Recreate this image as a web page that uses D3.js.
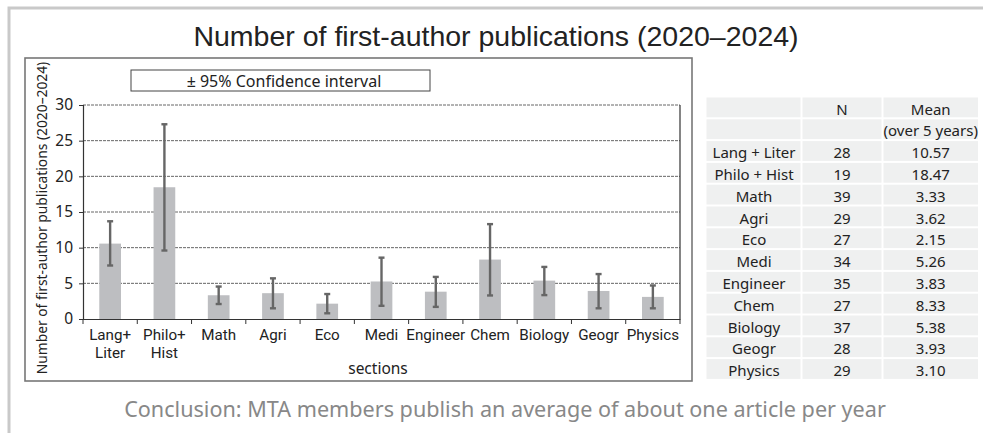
<!DOCTYPE html>
<html>
<head>
<meta charset="utf-8">
<script src="https://cdn.jsdelivr.net/npm/d3@7"></script>
<style>
  html, body { margin: 0; padding: 0; background: #fff; }
  svg { display: block; }
</style>
</head>
<body>
<svg id="chart" width="983" height="433"></svg>
<script>
// ---- data ----
const categories = ["Lang+ Liter", "Philo+ Hist", "Math", "Agri", "Eco", "Medi", "Engineer", "Chem", "Biology", "Geogr", "Physics"];
const tableNames = ["Lang + Liter", "Philo + Hist", "Math", "Agri", "Eco", "Medi", "Engineer", "Chem", "Biology", "Geogr", "Physics"];
const countN = [28, 19, 39, 29, 27, 34, 35, 27, 37, 28, 29];
const means = [10.57, 18.47, 3.33, 3.62, 2.15, 5.26, 3.83, 8.33, 5.38, 3.93, 3.10];
const ciLow = [7.5, 9.6, 2.1, 1.5, 0.8, 1.85, 1.7, 3.3, 3.35, 1.5, 1.5];
const ciHigh = [13.7, 27.3, 4.55, 5.7, 3.5, 8.6, 5.9, 13.3, 7.3, 6.3, 4.7];
const yTicks = [0, 5, 10, 15, 20, 25, 30];

const svg = d3.select("#chart");
const sans = "'Noto Sans', 'Open Sans', sans-serif";
const labelFont = "Roboto, 'Noto Sans', sans-serif";

// outer light frame
svg.append("rect").attr("x", 9).attr("y", 8).attr("width", 1000).attr("height", 450)
  .attr("fill", "none").attr("stroke", "#c9c9c9").attr("stroke-width", 3);

// title
svg.append("text").attr("x", 496).attr("y", 46).attr("text-anchor", "middle")
  .attr("font-family", "'Liberation Sans', Arial, sans-serif").attr("font-size", 28.5)
  .attr("fill", "#222").text("Number of first-author publications (2020–2024)");

// chart frame
svg.append("rect").attr("x", 25).attr("y", 58).attr("width", 667).attr("height", 323)
  .attr("fill", "#fff").attr("stroke", "#777").attr("stroke-width", 1.6);

// legend box
svg.append("rect").attr("x", 131).attr("y", 70).attr("width", 299).attr("height", 21)
  .attr("fill", "#fff").attr("stroke", "#444").attr("stroke-width", 1);
svg.append("text").attr("x", 284).attr("y", 86.5).attr("text-anchor", "middle")
  .attr("font-family", sans).attr("font-size", 16).attr("fill", "#222")
  .text("± 95% Confidence interval");

// scales
const x = d3.scaleBand().domain(categories).range([83, 680]).paddingInner(0.6).paddingOuter(0.3);
const y = d3.scaleLinear().domain([0, 30]).range([319, 105]);

// gridlines
svg.append("g").selectAll("line").data(yTicks.filter(d => d > 0)).join("line")
  .attr("x1", 83).attr("x2", 680).attr("y1", d => y(d)).attr("y2", d => y(d))
  .attr("stroke", "#666").attr("stroke-width", 1).attr("stroke-dasharray", "3,1");

// right border of plot area
svg.append("line").attr("x1", 680).attr("x2", 680).attr("y1", y(30)).attr("y2", y(0))
  .attr("stroke", "#333").attr("stroke-width", 1.2);

// bars
svg.append("g").selectAll("rect").data(categories).join("rect")
  .attr("x", d => x(d)).attr("width", x.bandwidth())
  .attr("y", (d, i) => y(means[i])).attr("height", (d, i) => y(0) - y(means[i]))
  .attr("fill", "#bdbec1");

// error bars
const eb = svg.append("g").attr("stroke", "#666").attr("stroke-width", 2.4);
categories.forEach((c, i) => {
  const cx = x(c) + x.bandwidth() / 2;
  eb.append("line").attr("x1", cx).attr("x2", cx).attr("y1", y(ciLow[i])).attr("y2", y(ciHigh[i]));
  eb.append("line").attr("x1", cx - 3).attr("x2", cx + 3).attr("y1", y(ciLow[i])).attr("y2", y(ciLow[i]));
  eb.append("line").attr("x1", cx - 3).attr("x2", cx + 3).attr("y1", y(ciHigh[i])).attr("y2", y(ciHigh[i]));
});

// y axis
const yAxis = svg.append("g").attr("transform", "translate(83,0)")
  .call(d3.axisLeft(y).tickValues(yTicks).tickSize(4).tickPadding(6));
yAxis.select(".domain").attr("stroke", "#333").attr("stroke-width", 1.2);
yAxis.selectAll(".tick line").attr("stroke", "#333");
yAxis.selectAll("text").attr("font-family", sans).attr("font-size", 15.5).attr("fill", "#222");

// x axis
const xAxis = svg.append("g").attr("transform", "translate(0,319)")
  .call(d3.axisBottom(x).tickSize(0).tickFormat(""));
xAxis.select(".domain").attr("stroke", "#333").attr("stroke-width", 1.2);
const step = x.step();
const boundaries = categories.map(c => x(c) - x.paddingInner() * step / 2).concat([x.range()[1]]);
svg.append("g").selectAll("line").data(boundaries).join("line")
  .attr("x1", d => d).attr("x2", d => d).attr("y1", 319).attr("y2", 324)
  .attr("stroke", "#333").attr("stroke-width", 1);
const xl = svg.append("g").attr("font-family", labelFont).attr("font-size", 15.2).attr("fill", "#222")
  .attr("text-anchor", "middle");
categories.forEach(c => {
  const cx = x(c) + x.bandwidth() / 2;
  c.split(" ").forEach((part, j) => {
    xl.append("text").attr("x", cx).attr("y", 340 + j * 18).text(part);
  });
});

// x title
svg.append("text").attr("x", 378).attr("y", 374).attr("text-anchor", "middle")
  .attr("font-family", sans).attr("font-size", 15.5).attr("fill", "#222").text("sections");

// y title
svg.append("text").attr("transform", "translate(47,218) rotate(-90)").attr("text-anchor", "middle")
  .attr("font-family", sans).attr("font-size", 13.8).attr("fill", "#222")
  .text("Number of first-author publications (2020–2024)");

// table
const colX = [706.5, 801.5, 882.5, 979];
const rowTop = 96.5, rowH = 21.8;
const rows = [["", "N", "Mean"], ["", "", "(over 5 years)"]]
  .concat(tableNames.map((n, i) => [n, String(countN[i]), means[i].toFixed(2)]));
const tg = svg.append("g");
rows.forEach((r, ri) => {
  for (let ci = 0; ci < 3; ci++) {
    tg.append("rect").attr("x", colX[ci] + (ci > 0 ? 1 : 0)).attr("y", rowTop + ri * rowH + 1)
      .attr("width", colX[ci + 1] - colX[ci] - (ci > 0 ? 1 : 0) - 1).attr("height", rowH - 2)
      .attr("fill", "#eff0f0");
    if (r[ci] !== "") {
      tg.append("text").attr("x", (colX[ci] + colX[ci + 1]) / 2).attr("y", rowTop + ri * rowH + 18)
        .attr("text-anchor", "middle").attr("font-family", sans).attr("font-size", 15)
        .attr("fill", "#222").text(r[ci]);
    }
  }
});

// conclusion
svg.append("text").attr("x", 505).attr("y", 417).attr("text-anchor", "middle")
  .attr("font-family", sans).attr("font-size", 21.6).attr("fill", "#888")
  .text("Conclusion: MTA members publish an average of about one article per year");
</script>
</body>
</html>
